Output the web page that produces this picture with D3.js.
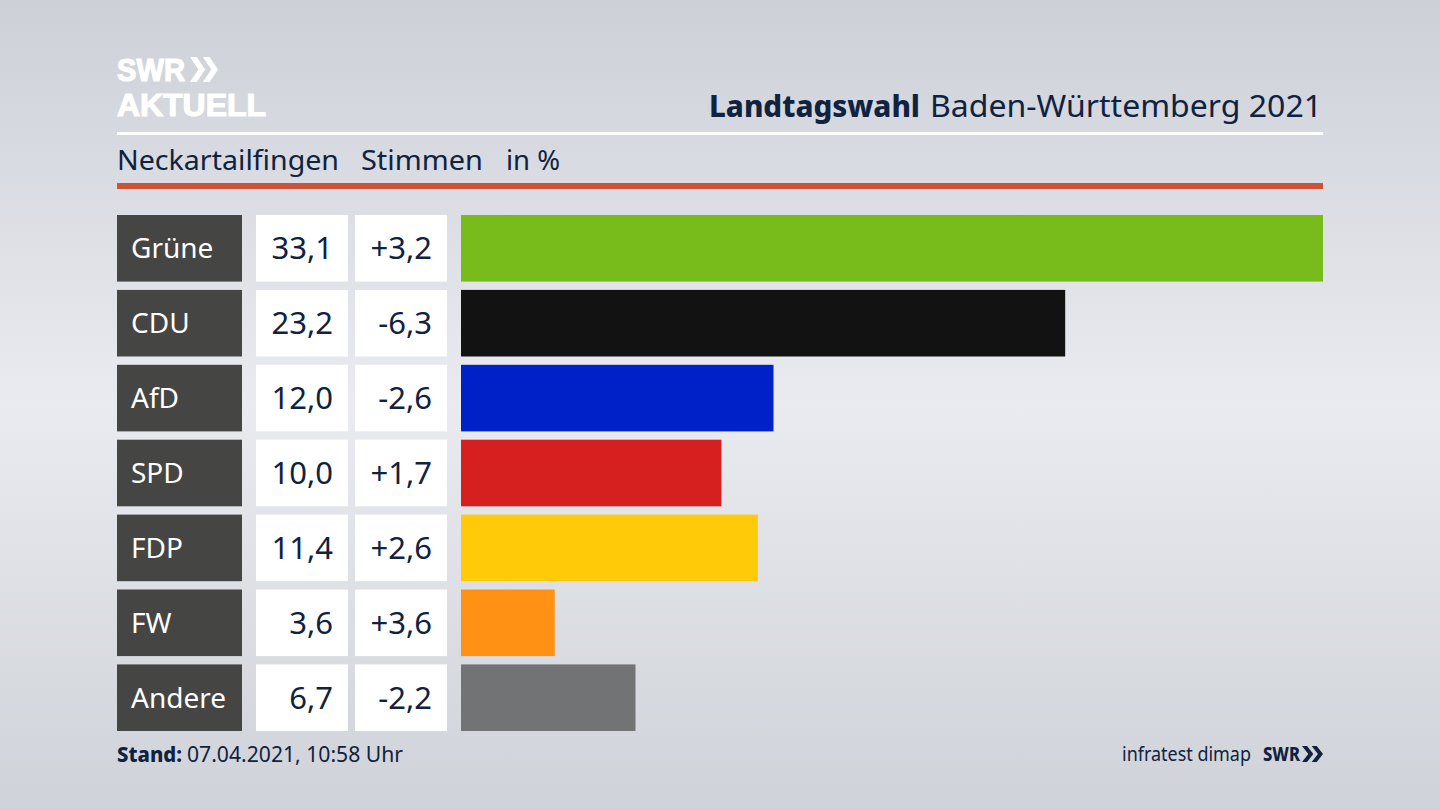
<!DOCTYPE html>
<html>
<head>
<meta charset="utf-8">
<script src="https://cdn.jsdelivr.net/npm/d3@7"></script>
<style>
  html, body { margin: 0; padding: 0; background: #d5d8de; }
  svg { display: block; }
  text { font-family: "Noto Sans", sans-serif; }
</style>
</head>
<body>
<div id="chart"></div>
<script>
// Data
const parties = ["Grüne", "CDU", "AfD", "SPD", "FDP", "FW", "Andere"];
const shares = [33.1, 23.2, 12.0, 10.0, 11.4, 3.6, 6.7];
const changes = ["+3,2", "-6,3", "-2,6", "+1,7", "+2,6", "+3,6", "-2,2"];
const barColors = ["#78bc1b", "#121212", "#0021c8", "#d61f1f", "#ffcb08", "#ff9114", "#727374"];

const width = 1440, height = 810;
const ink = "#0f2240";
const fmt = v => v.toFixed(1).replace(".", ",");

const svg = d3.select("#chart").append("svg")
  .attr("width", width)
  .attr("height", height);

// Background glow
const defs = svg.append("defs");
const bg = defs.append("linearGradient").attr("id", "bg")
  .attr("x1", 0).attr("y1", 0).attr("x2", 0).attr("y2", 1);
bg.append("stop").attr("offset", "0%").attr("stop-color", "#cdd0d7");
bg.append("stop").attr("offset", "50%").attr("stop-color", "#e9ebf0");
bg.append("stop").attr("offset", "100%").attr("stop-color", "#cfd2d8");
svg.append("rect").attr("width", width).attr("height", height).attr("fill", "url(#bg)");

// Scales
const y = d3.scaleBand().domain(parties).range([215, 731]).paddingInner(0.111);
const x = d3.scaleLinear().domain([0, 33.1]).range([461, 1323]);

// Logo top left, stroke thickens the letters because the two lines sit very close
[["SWR", 81, 68], ["AKTUELL", 116, 149]].forEach(([t, ty, len]) => {
  svg.append("text").attr("x", 117).attr("y", ty)
    .style("font-family", '"Liberation Sans", sans-serif')
    .attr("font-size", 31).attr("font-weight", 700)
    .attr("fill", "#fff").attr("stroke", "#fff").attr("stroke-width", 1.2)
    .attr("textLength", len).attr("lengthAdjust", "spacingAndGlyphs").text(t);
});

function chevrons(px, py, w, h, fill) {
  [0, 1].forEach(i => {
    svg.append("path")
      .attr("d", `M${px + i * w * 0.46} ${py} l${w * 0.24} 0 l${w * 0.3} ${h / 2} l${-w * 0.3} ${h / 2} l${-w * 0.24} 0 l${w * 0.3} ${-h / 2} z`)
      .attr("fill", fill);
  });
}
chevrons(190, 57, 28, 25, "#fff");

// Title
svg.append("text").attr("x", 709).attr("y", 117)
  .attr("font-size", 31).attr("font-weight", 800).attr("fill", ink)
  .attr("textLength", 211).attr("lengthAdjust", "spacingAndGlyphs").text("Landtagswahl");
svg.append("text").attr("x", 930).attr("y", 117)
  .attr("font-size", 31).attr("fill", ink)
  .attr("textLength", 392).attr("lengthAdjust", "spacingAndGlyphs").text("Baden-Württemberg 2021");

// Rules
svg.append("rect").attr("x", 117).attr("y", 132).attr("width", 1206).attr("height", 3).attr("fill", "#fff");
svg.append("rect").attr("x", 117).attr("y", 183).attr("width", 1206).attr("height", 6).attr("fill", "#cd5338");

// Subtitle
[["Neckartailfingen", 117, 222], ["Stimmen", 361, 122], ["in %", 506, 54]].forEach(([t, tx, len]) => {
  svg.append("text").attr("x", tx).attr("y", 170)
    .attr("font-size", 28).attr("fill", ink)
    .attr("textLength", len).attr("lengthAdjust", "spacingAndGlyphs").text(t);
});

// Rows
const rows = svg.selectAll("g.row").data(parties).join("g")
  .attr("class", "row")
  .attr("transform", d => `translate(0,${y(d)})`);

rows.append("rect").attr("x", 117).attr("width", 125).attr("height", y.bandwidth()).attr("fill", "#454543");
rows.append("rect").attr("x", 256).attr("width", 92).attr("height", y.bandwidth()).attr("fill", "#fff");
rows.append("rect").attr("x", 355).attr("width", 92).attr("height", y.bandwidth()).attr("fill", "#fff");

rows.append("text").attr("x", 131).attr("y", y.bandwidth() / 2 + 10)
  .attr("font-size", 28).attr("fill", "#fff").text(d => d);
rows.append("text").attr("x", 333).attr("y", y.bandwidth() / 2 + 11)
  .attr("text-anchor", "end").attr("font-size", 31).attr("fill", ink)
  .text((d, i) => fmt(shares[i]));
rows.append("text").attr("x", 432).attr("y", y.bandwidth() / 2 + 11)
  .attr("text-anchor", "end").attr("font-size", 31).attr("fill", ink)
  .text((d, i) => changes[i]);

// Bars
rows.append("rect")
  .attr("x", x(0))
  .attr("width", (d, i) => x(shares[i]) - x(0))
  .attr("height", y.bandwidth())
  .attr("fill", (d, i) => barColors[i]);

// Footer
svg.append("text").attr("x", 117).attr("y", 762)
  .attr("font-size", 21).attr("font-weight", 800).attr("fill", ink)
  .attr("textLength", 65).attr("lengthAdjust", "spacingAndGlyphs").text("Stand:");
svg.append("text").attr("x", 187).attr("y", 762)
  .attr("font-size", 21).attr("fill", ink)
  .attr("textLength", 216).attr("lengthAdjust", "spacingAndGlyphs").text("07.04.2021, 10:58 Uhr");

svg.append("text").attr("x", 1122).attr("y", 761)
  .attr("font-size", 20).attr("fill", ink)
  .attr("textLength", 129).attr("lengthAdjust", "spacingAndGlyphs").text("infratest dimap");
svg.append("text").attr("x", 1263).attr("y", 761)
  .attr("font-size", 20).attr("font-weight", 800).attr("fill", ink)
  .attr("textLength", 37).attr("lengthAdjust", "spacingAndGlyphs").text("SWR");
chevrons(1302, 746, 21, 16, ink);
</script>
</body>
</html>
